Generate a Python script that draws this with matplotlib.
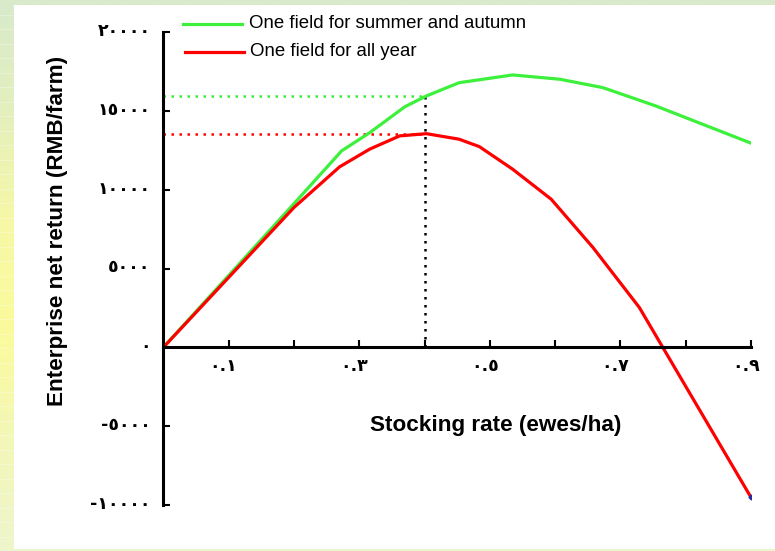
import numpy as np
import matplotlib
matplotlib.use("Agg")
import matplotlib.pyplot as plt
import matplotlib.transforms as mtransforms
from matplotlib.colors import LinearSegmentedColormap
from matplotlib.patches import Rectangle

# ---------------- data ----------------
x_green = [0.0, 0.2, 0.273, 0.316, 0.370, 0.403, 0.453, 0.535, 0.607, 0.673, 0.754, 0.9]
y_green = [0, 9100, 12450, 13600, 15250, 15930, 16770, 17260, 16990, 16460, 15300, 12940]

x_red = [0.0, 0.2, 0.270, 0.316, 0.362, 0.403, 0.453, 0.484, 0.535, 0.594, 0.658, 0.729, 0.9]
y_red = [0, 8860, 11440, 12560, 13400, 13540, 13190, 12720, 11290, 9390, 6330, 2530, -9500]

opt_x = 0.4
opt_green = 15930
opt_red = 13500

series_labels = ["One field for summer and autumn", "One field for all year"]
x_ticks = [0.1, 0.2, 0.3, 0.4, 0.5, 0.6, 0.7, 0.8, 0.9]
x_ticklabels = ["٠.١", "", "٠.٣", "", "٠.٥", "", "٠.٧", "", "٠.٩"]
y_ticks = [-10000, -5000, 0, 5000, 10000, 15000, 20000]
y_ticklabels = ["-١٠٠٠٠", "-٥٠٠٠", "٠", "٥٠٠٠", "١٠٠٠٠", "١٥٠٠٠", "٢٠٠٠٠"]
x_label = "Stocking rate (ewes/ha)"
y_label = "Enterprise net return (RMB/farm)"

# ---------------- figure ----------------
W, H = 775, 551
DPI = 100
fig = plt.figure(figsize=(W / DPI, H / DPI), dpi=DPI)

# background gradient
bg = fig.add_axes([0, 0, 1, 1])
bg.set_axis_off()
cmap = LinearSegmentedColormap.from_list(
    "bgc", ["#d8eacb", "#e4efbd", "#f6f8a6", "#fbfb9c", "#f3f7b8", "#eef5cc"])
grad = np.linspace(0, 1, 256).reshape(-1, 1)
bg.imshow(grad, aspect="auto", cmap=cmap, extent=[0, 1, 0, 1], origin="upper")
for yy in np.arange(0, 1, 14.5 / H):
    bg.axhline(yy, color="white", lw=0.6, alpha=0.35)
bg.add_patch(Rectangle((14 / W, 1 - 549 / H), 1 - 14 / W, (549 - 5) / H,
                       facecolor="white", edgecolor="none", transform=bg.transAxes))
bg.set_xlim(0, 1)
bg.set_ylim(0, 1)

# main axes in pixel coords
x0p, x1p = 163.3, 751.0
ytop, ybot = 31.7, 505.3
ax = fig.add_axes([x0p / W, 1 - ybot / H, (x1p - x0p) / W, (ybot - ytop) / H])
ax.patch.set_alpha(0)
ax.set_xlim(0, 0.9)
ax.set_ylim(-10000, 20000)

for s in ["top", "right"]:
    ax.spines[s].set_visible(False)
ax.spines["bottom"].set_position(("data", 0))
ax.spines["left"].set_position(("data", 0))
ax.spines["bottom"].set_linewidth(2.2)
ax.spines["left"].set_linewidth(2.2)

ax.set_xticks(x_ticks)
ax.set_xticklabels(x_ticklabels, fontsize=12.5, fontweight="bold", family=["DejaVu Sans"])
ax.set_yticks(y_ticks)
ax.set_yticklabels(y_ticklabels, fontsize=12.5, fontweight="bold", family=["DejaVu Sans"])
ax.tick_params(axis="x", direction="in", length=5, width=1.5, pad=7)
ax.tick_params(axis="y", direction="in", length=5, width=1.5, pad=9)

# small offsets of tick labels as in the reference
dx = mtransforms.ScaledTranslation(-5 / DPI, 0, fig.dpi_scale_trans)
for lab in ax.get_xticklabels():
    lab.set_transform(lab.get_transform() + dx)
dy = mtransforms.ScaledTranslation(0, 3 / DPI, fig.dpi_scale_trans)
for lab in ax.get_yticklabels():
    lab.set_transform(lab.get_transform() + dy)

# reference dotted lines
ax.plot([0, opt_x], [opt_green, opt_green], color="#33ee33", lw=1.8, ls=(0, (1, 2.2)))
ax.plot([0, opt_x], [opt_red, opt_red], color="#ff0000", lw=1.8, ls=(0, (1, 2.2)))
ax.plot([opt_x, opt_x], [0, opt_green], color="black", lw=1.8, ls=(0, (1, 2.2)))

# curves
ax.plot(x_green, y_green, color="#3cf03c", lw=2.3, solid_joinstyle="round")
ax.plot(x_red, y_red, color="#ff0000", lw=2.3, solid_joinstyle="round")
ax.plot(x_red[-1:], y_red[-1:], marker="D", ms=2.5, color="#2030a0", ls="none")

# legend (manual, figure pixel coords)
def fx(px):
    return px / W

def fy(py):
    return 1 - py / H

fig.lines.append(plt.Line2D([fx(183), fx(242)], [fy(23.5), fy(23.5)],
                            color="#3cf03c", lw=2.3, transform=fig.transFigure))
fig.lines.append(plt.Line2D([fx(185), fx(244)], [fy(51.5), fy(51.5)],
                            color="#ff0000", lw=2.3, transform=fig.transFigure))
fig.text(fx(249), fy(23.5), series_labels[0], fontsize=13.4, va="center",
         ha="left", family="Liberation Sans")
fig.text(fx(250), fy(51.5), series_labels[1], fontsize=13.4, va="center",
         ha="left", family="Liberation Sans")

# axis labels
fig.text(fx(496), fy(425), x_label, fontsize=16.2, fontweight="bold",
         ha="center", va="center", family="Liberation Sans")
fig.text(fx(58), fy(231), y_label, fontsize=16.2, fontweight="bold",
         ha="center", va="center", rotation=90, family="Liberation Sans")

fig.savefig("out.png", dpi=DPI)
